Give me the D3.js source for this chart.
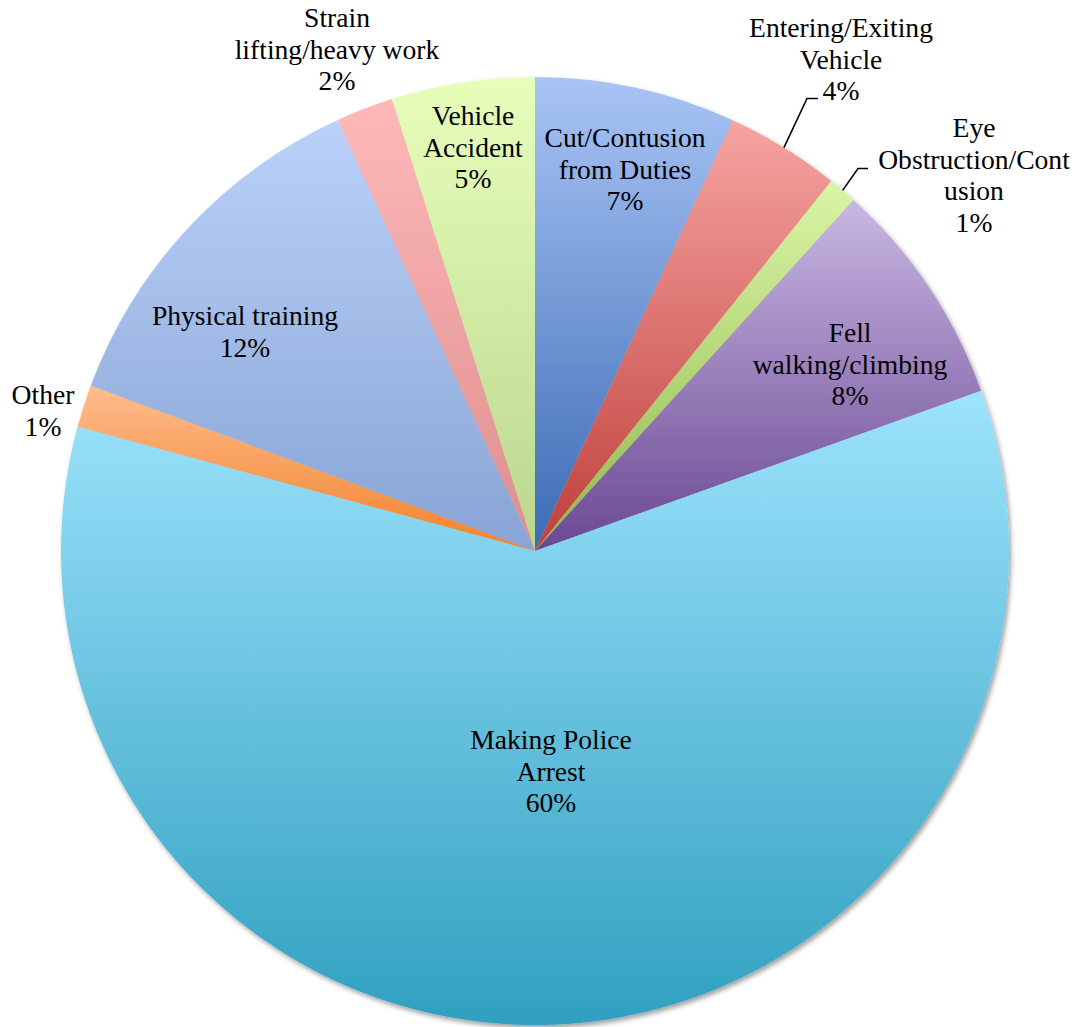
<!DOCTYPE html>
<html>
<head>
<meta charset="utf-8">
<script src="https://cdn.jsdelivr.net/npm/d3@7"></script>
<style>
  html, body { margin: 0; padding: 0; background: #ffffff; }
  svg { display: block; }
  .lbl { font-family: "Liberation Serif", "Times New Roman", serif; font-size: 27.6px; fill: #000; }
</style>
</head>
<body>
<svg id="chart" width="1085" height="1027"></svg>
<script>
// Injury causes, share of all reported injuries (%)
const categories = [
  "Cut/Contusion from Duties",
  "Entering/Exiting Vehicle",
  "Eye Obstruction/Contusion",
  "Fell walking/climbing",
  "Making Police Arrest",
  "Other",
  "Physical training",
  "Strain lifting/heavy work",
  "Vehicle Accident"
];
const values = [6.85, 3.90, 0.98, 7.78, 59.72, 1.45, 12.49, 1.95, 4.88];

// Wrapped label text for each category (percentage line added below)
const labelLines = [
  ["Cut/Contusion", "from Duties"],
  ["Entering/Exiting", "Vehicle"],
  ["Eye", "Obstruction/Cont", "usion"],
  ["Fell", "walking/climbing"],
  ["Making Police", "Arrest"],
  ["Other"],
  ["Physical training"],
  ["Strain", "lifting/heavy work"],
  ["Vehicle", "Accident"]
];

// Gradient colours (top, bottom) per slice
const sliceColors = [
  ["#a9c4f5", "#3b6bb4"],
  ["#f6a4a1", "#bf3f3b"],
  ["#daf5a6", "#90b84c"],
  ["#c9b7e3", "#6a4893"],
  ["#9de3fd", "#30a0c0"],
  ["#ffbd8e", "#f2812a"],
  ["#bad1fa", "#88a4d4"],
  ["#ffb8b8", "#dc8e8e"],
  ["#e7feba", "#bad68e"]
];

// Label anchors: centre x and first baseline y
const labelAnchors = [
  [625, 147], [841, 37], [974, 137], [850, 342], [551, 749],
  [43, 404], [245, 325], [337, 27], [473, 125]
];
// Leader lines for labels placed outside: [elbow x, elbow y, end x]
const leaders = { 1: [807, 98.5, 818], 2: [858, 168.5, 868] };

const cx = 535, cy = 551, radius = 474, lineH = 31.5;
const svg = d3.select("#chart");
const defs = svg.append("defs");

const shadow = defs.append("filter").attr("id", "pieShadow")
  .attr("x", "-10%").attr("y", "-10%").attr("width", "120%").attr("height", "120%");
shadow.append("feDropShadow").attr("dx", 2).attr("dy", 3)
  .attr("stdDeviation", 2.5).attr("flood-color", "#000").attr("flood-opacity", 0.38);

sliceColors.forEach((c, i) => {
  const g = defs.append("linearGradient").attr("id", "grad" + i)
    .attr("x1", 0).attr("y1", 0).attr("x2", 0).attr("y2", 1);
  g.append("stop").attr("offset", "0%").attr("stop-color", c[0]);
  g.append("stop").attr("offset", "100%").attr("stop-color", c[1]);
});

const total = d3.sum(values);
const data = categories.map((name, i) => ({ name, value: values[i], i }));
const pie = d3.pie().sort(null).value(d => d.value).startAngle(0).endAngle(2 * Math.PI);
const arcs = pie(data);
const arc = d3.arc().innerRadius(0).outerRadius(radius);
const rim = d3.arc().innerRadius(radius).outerRadius(radius);

const g = svg.append("g").attr("transform", `translate(${cx},${cy})`);
g.append("g").attr("filter", "url(#pieShadow)")
  .selectAll("path").data(arcs).join("path")
  .attr("d", arc)
  .attr("fill", d => `url(#grad${d.data.i})`);

// Leader lines
Object.keys(leaders).forEach(k => {
  const a = arcs[+k];
  const p = rim.centroid(a);
  const [ex, ey, hx] = leaders[k];
  svg.append("polyline")
    .attr("points", `${cx + p[0]},${cy + p[1]} ${ex},${ey} ${hx},${ey}`)
    .attr("fill", "none").attr("stroke", "#000").attr("stroke-width", 1.6);
});

// Data labels
arcs.forEach(a => {
  const i = a.data.i;
  const lines = labelLines[i].concat([Math.round(a.data.value / total * 100) + "%"]);
  const [x, y] = labelAnchors[i];
  const t = svg.append("text").attr("class", "lbl").attr("text-anchor", "middle");
  lines.forEach((s, j) => {
    t.append("tspan").attr("x", x).attr("y", y + j * lineH).text(s);
  });
});
</script>
</body>
</html>
